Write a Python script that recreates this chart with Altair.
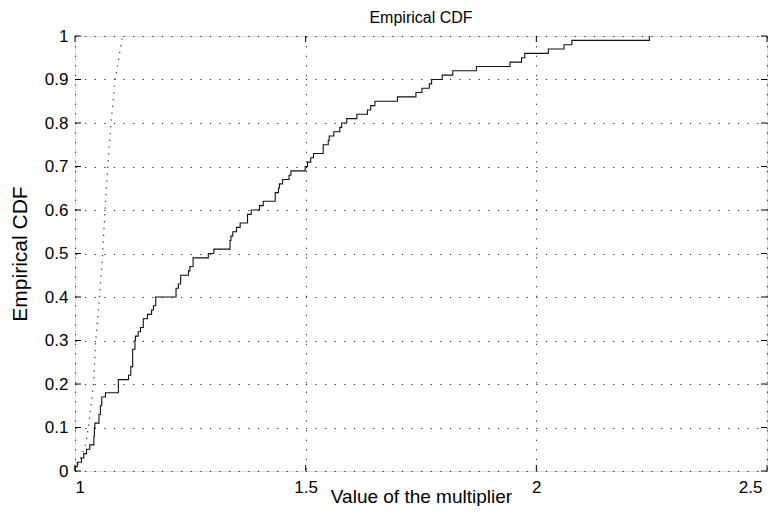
import altair as alt
import pandas as pd

# Solid empirical CDF (step vertices: value where the CDF jumps, level after the jump)
ecdf_x = [1.000, 1.000, 1.005, 1.014, 1.019, 1.025, 1.032, 1.041, 1.042, 1.043,
          1.052, 1.055, 1.058, 1.066, 1.094, 1.116, 1.121, 1.125, 1.130, 1.131,
          1.137, 1.142, 1.148, 1.157, 1.166, 1.170, 1.175, 1.219, 1.224, 1.229,
          1.246, 1.249, 1.256, 1.289, 1.301, 1.336, 1.338, 1.342, 1.350, 1.358,
          1.374, 1.382, 1.400, 1.408, 1.434, 1.441, 1.443, 1.450, 1.464, 1.468,
          1.499, 1.504, 1.511, 1.517, 1.538, 1.549, 1.551, 1.561, 1.574, 1.578,
          1.589, 1.611, 1.634, 1.641, 1.650, 1.699, 1.739, 1.752, 1.768, 1.773,
          1.796, 1.819, 1.870, 1.943, 1.968, 1.975, 2.026, 2.060, 2.077, 2.245]
ecdf_y = [0.00, 0.01, 0.02, 0.03, 0.04, 0.05, 0.06, 0.08, 0.10, 0.11,
          0.13, 0.15, 0.17, 0.18, 0.21, 0.22, 0.24, 0.28, 0.30, 0.31,
          0.32, 0.33, 0.35, 0.36, 0.37, 0.38, 0.40, 0.42, 0.43, 0.45,
          0.46, 0.47, 0.49, 0.50, 0.51, 0.53, 0.54, 0.55, 0.56, 0.57,
          0.59, 0.60, 0.61, 0.62, 0.64, 0.65, 0.66, 0.67, 0.68, 0.69,
          0.70, 0.71, 0.72, 0.73, 0.75, 0.76, 0.77, 0.78, 0.79, 0.80,
          0.81, 0.82, 0.83, 0.84, 0.85, 0.86, 0.87, 0.88, 0.89, 0.90,
          0.91, 0.92, 0.93, 0.94, 0.95, 0.96, 0.97, 0.98, 0.99, 1.00]

# Dotted reference CDF
ref_x = [1.000, 1.012, 1.023, 1.029, 1.035, 1.040, 1.045, 1.053, 1.060,
         1.065, 1.071, 1.078, 1.087, 1.095, 1.103]
ref_y = [0.00, 0.03, 0.06, 0.10, 0.15, 0.20, 0.30, 0.40, 0.50,
         0.60, 0.70, 0.80, 0.90, 0.95, 1.00]

x_ticks = [1.0, 1.5, 2.0, 2.5]
y_ticks = [0.0, 0.1, 0.2, 0.3, 0.4, 0.5, 0.6, 0.7, 0.8, 0.9, 1.0]

W, H = 692, 435
FONT = "Liberation Sans"

ecdf_df = pd.DataFrame({"x": ecdf_x, "y": ecdf_y})
ref_df = pd.DataFrame({"x": ref_x, "y": ref_y})
xt_df = pd.DataFrame({"x": x_ticks})
yt_df = pd.DataFrame({"y": y_ticks})

xs = alt.Scale(domain=[1.0, 2.5], nice=False, zero=False)
ys = alt.Scale(domain=[0.0, 1.0], nice=False, zero=False)

x_axis = alt.Axis(values=x_ticks, format="~g", title="Value of the multiplier",
                  grid=True, gridDash=[1.2, 8.4], gridColor="#222", gridOpacity=1,
                  gridWidth=1, ticks=False, domain=False, labelPadding=8,
                  labelOffset={"expr": "datum.value >= 2.5 ? -5 : 0"},
                  labelFontSize=17, titleFontSize=19, titleY=31,
                  titleBaseline="alphabetic",
                  labelFont=FONT, titleFont=FONT, labelColor="black",
                  titleColor="black", titleFontWeight="normal")
y_axis = alt.Axis(values=y_ticks, format=".1~f", title="Empirical CDF",
                  grid=True, gridDash=[1.2, 8.4], gridColor="#222", gridOpacity=1,
                  gridWidth=1, ticks=False, domain=False, labelPadding=7,
                  labelFontSize=17, titleFontSize=21, titlePadding=14,
                  labelFont=FONT, titleFont=FONT, labelColor="black",
                  titleColor="black", titleFontWeight="normal")

ref_line = alt.Chart(ref_df).mark_line(
    color="#444", strokeWidth=1.3, strokeDash=[1.3, 5.5]
).encode(x=alt.X("x:Q", scale=xs, axis=x_axis), y=alt.Y("y:Q", scale=ys, axis=y_axis))

ecdf_line = alt.Chart(ecdf_df).mark_line(
    color="#111", strokeWidth=1.1, interpolate="step-after"
).encode(x=alt.X("x:Q", scale=xs), y=alt.Y("y:Q", scale=ys))

tick_len = 6
xt_bottom = alt.Chart(xt_df).mark_rule(color="black", strokeWidth=1).encode(
    x=alt.X("x:Q", scale=xs), y=alt.value(H), y2=alt.value(H - tick_len))
xt_top = alt.Chart(xt_df).mark_rule(color="black", strokeWidth=1).encode(
    x=alt.X("x:Q", scale=xs), y=alt.value(0), y2=alt.value(tick_len))
yt_left = alt.Chart(yt_df).mark_rule(color="black", strokeWidth=1).encode(
    y=alt.Y("y:Q", scale=ys), x=alt.value(0), x2=alt.value(tick_len))
yt_right = alt.Chart(yt_df).mark_rule(color="black", strokeWidth=1).encode(
    y=alt.Y("y:Q", scale=ys), x=alt.value(W), x2=alt.value(W - tick_len))

chart = alt.layer(ref_line, ecdf_line, xt_bottom, xt_top, yt_left, yt_right).properties(
    width=W, height=H,
    title=alt.TitleParams("Empirical CDF", fontSize=16, font=FONT, fontWeight="normal",
                          color="black", offset=1, anchor="middle"),
    autosize=alt.AutoSizeParams(type="none"),
    padding={"left": 67, "top": 28, "right": 8, "bottom": 35},
).configure_view(stroke="black", strokeWidth=1.3).configure(background="white")

chart.save("out.html", embed_options={"renderer": "svg", "actions": False})
